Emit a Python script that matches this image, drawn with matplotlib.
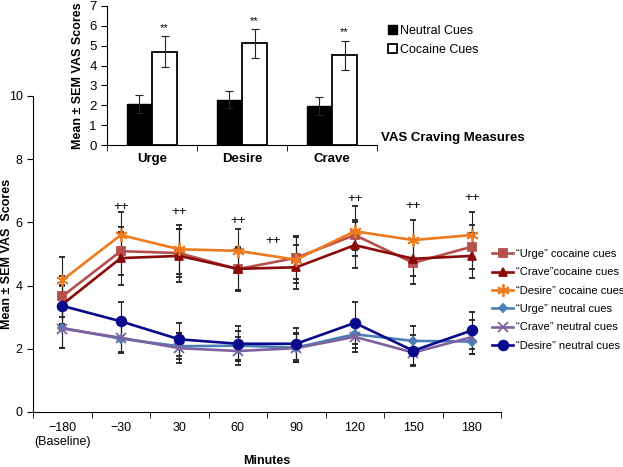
import numpy as np
import matplotlib
matplotlib.use("Agg")
import matplotlib.pyplot as plt
from matplotlib.patches import Patch

plt.rcParams['font.family'] = ['Liberation Sans', 'DejaVu Sans']

# time course (main panel)
minutes = ["\u2212180\n(Baseline)", "\u221230", "30", "60", "90", "120", "150", "180"]

urge_coc = [3.66, 5.09, 5.03, 4.52, 4.88, 5.60, 4.72, 5.23]
urge_coc_sem = [0.65, 0.75, 0.76, 0.70, 0.66, 0.48, 0.68, 0.70]
crave_coc = [3.40, 4.87, 4.94, 4.53, 4.58, 5.28, 4.85, 4.94]
crave_coc_sem = [0.60, 0.84, 0.84, 0.67, 0.70, 0.73, 0.55, 0.71]
desire_coc = [4.17, 5.60, 5.15, 5.10, 4.82, 5.72, 5.44, 5.60]
desire_coc_sem = [0.72, 0.74, 0.78, 0.68, 0.74, 0.79, 0.64, 0.72]
urge_neu = [2.66, 2.32, 2.08, 2.10, 2.04, 2.46, 2.25, 2.23]
urge_neu_sem = [0.62, 0.44, 0.41, 0.45, 0.46, 0.44, 0.47, 0.40]
crave_neu = [2.64, 2.35, 2.02, 1.93, 2.02, 2.38, 1.88, 2.37]
crave_neu_sem = [0.60, 0.45, 0.48, 0.44, 0.44, 0.49, 0.39, 0.54]
desire_neu = [3.36, 2.87, 2.30, 2.16, 2.16, 2.82, 1.94, 2.58]
desire_neu_sem = [0.65, 0.60, 0.53, 0.56, 0.50, 0.66, 0.50, 0.58]

# "++" marks: (category position, height)
plus_x = [1, 2, 3, 3.6, 5, 6, 7]
plus_y = [6.5, 6.32, 6.05, 5.4, 6.75, 6.52, 6.76]

# inset bar chart
measures = ["Urge", "Desire", "Crave"]
neutral = [2.05, 2.29, 1.96]
neutral_sem = [0.45, 0.42, 0.44]
cocaine = [4.70, 5.12, 4.53]
cocaine_sem = [0.77, 0.72, 0.73]

fig = plt.figure(figsize=(6.23, 4.67), dpi=100)

# ---- main axes ----
ax = fig.add_axes([33 / 623, 55 / 467, 468 / 623, 316 / 467])
x = np.arange(len(minutes))

series = [
    (urge_coc, urge_coc_sem, '#B5504D', 's', 6, '\u201cUrge\u201d cocaine cues'),
    (crave_coc, crave_coc_sem, '#8B0A0A', '^', 6, '\u201cCrave\u201dcocaine cues'),
    (desire_coc, desire_coc_sem, '#EE7A1E', (6, 2, 0), 9, '\u201cDesire\u201d cocaine cues'),
    (urge_neu, urge_neu_sem, '#4A80B8', 'D', 4, '\u201cUrge\u201d neutral cues'),
    (crave_neu, crave_neu_sem, '#7D62A0', 'x', 7, '\u201cCrave\u201d neutral cues'),
    (desire_neu, desire_neu_sem, '#0A0A8C', 'o', 7, '\u201cDesire\u201d neutral cues'),
]
handles = []
labels = []
for vals, sem, col, mk, ms, lab in series:
    eb = ax.errorbar(x, vals, yerr=sem, color=col, marker=mk, markersize=ms,
                     markeredgewidth=1.3, lw=1.9, ecolor='#222222',
                     elinewidth=0.8, capsize=2.2, capthick=0.8)
    handles.append(eb.lines[0])
    labels.append(lab)

for px, py in zip(plus_x, plus_y):
    ax.text(px, py, "++", ha='center', va='center', fontsize=9.5)

ax.set_xlim(-0.5, len(minutes) - 0.5)
ax.set_ylim(0, 10)
ax.set_yticks([0, 2, 4, 6, 8, 10])
ax.set_xticks(x)
ax.set_xticklabels(minutes, fontsize=9)
ax.set_xticks(np.arange(len(minutes) + 1) - 0.5, minor=True)
ax.tick_params(axis='x', which='major', length=0, pad=7)
ax.tick_params(axis='x', which='minor', length=4, direction='out')
ax.tick_params(axis='y', labelsize=9, length=4, direction='out')
for s in ['top', 'right']:
    ax.spines[s].set_visible(False)
ax.set_xlabel("Minutes", fontweight='bold', fontsize=9)
ax.xaxis.set_label_coords(0.5, -0.136)
ax.set_ylabel("Mean \u00b1 SEM VAS  Scores", fontweight='bold', fontsize=9)
ax.yaxis.set_label_coords(-0.042, 0.5)

ax.legend(handles, labels, loc='center left', bbox_to_anchor=(492 / 623, 1 - 300 / 467),
          bbox_transform=fig.transFigure, frameon=False, fontsize=8,
          handlelength=1.9, handletextpad=0.3, labelspacing=0.75,
          borderpad=0, borderaxespad=0)

# ---- inset bar chart ----
ax_in = fig.add_axes([107 / 623, 1 - 145 / 467, 270 / 623, 139 / 467])
xi = np.arange(len(measures))
w = 0.28
ax_in.bar(xi - w / 2, neutral, w, yerr=neutral_sem, color='black', edgecolor='black',
          lw=1, capsize=3, error_kw=dict(elinewidth=0.8, capthick=0.8, ecolor='#222222'))
ax_in.bar(xi + w / 2, cocaine, w, yerr=cocaine_sem, color='white', edgecolor='black',
          lw=1.3, capsize=3, error_kw=dict(elinewidth=0.8, capthick=0.8, ecolor='#222222'))
for xx, v, e in zip(xi, cocaine, cocaine_sem):
    ax_in.text(xx + w / 2, v + e + 0.15, "**", ha='center', va='bottom', fontsize=8)

ax_in.set_xlim(-0.5, len(measures) - 0.5)
ax_in.set_ylim(0, 7)
ax_in.set_yticks(range(8))
ax_in.set_xticks(xi)
ax_in.set_xticklabels(measures, fontweight='bold', fontsize=9.5)
ax_in.set_xticks(np.arange(len(measures) + 1) - 0.5, minor=True)
ax_in.tick_params(axis='x', which='major', length=0, pad=6)
ax_in.tick_params(axis='x', which='minor', length=4, direction='out')
ax_in.tick_params(axis='y', labelsize=9.5, length=4, direction='out')
for s in ['top', 'right']:
    ax_in.spines[s].set_visible(False)
ax_in.set_ylabel("Mean \u00b1 SEM VAS Scores", fontweight='bold', fontsize=9, labelpad=4)

ax_in.legend(handles=[Patch(facecolor='black', edgecolor='black', label='Neutral Cues'),
                      Patch(facecolor='white', edgecolor='black', lw=1.3, label='Cocaine Cues')],
             loc='upper left', bbox_to_anchor=(388 / 623, 1 - 25 / 467),
             bbox_transform=fig.transFigure, frameon=False, fontsize=9,
             handlelength=0.7, handleheight=0.7, handletextpad=0.3,
             labelspacing=0.55, borderpad=0, borderaxespad=0)

fig.text(381 / 623, 1 - 138 / 467, "VAS Craving Measures", fontweight='bold',
         fontsize=9.5, va='center', ha='left')

fig.savefig("out.png", dpi=100)
